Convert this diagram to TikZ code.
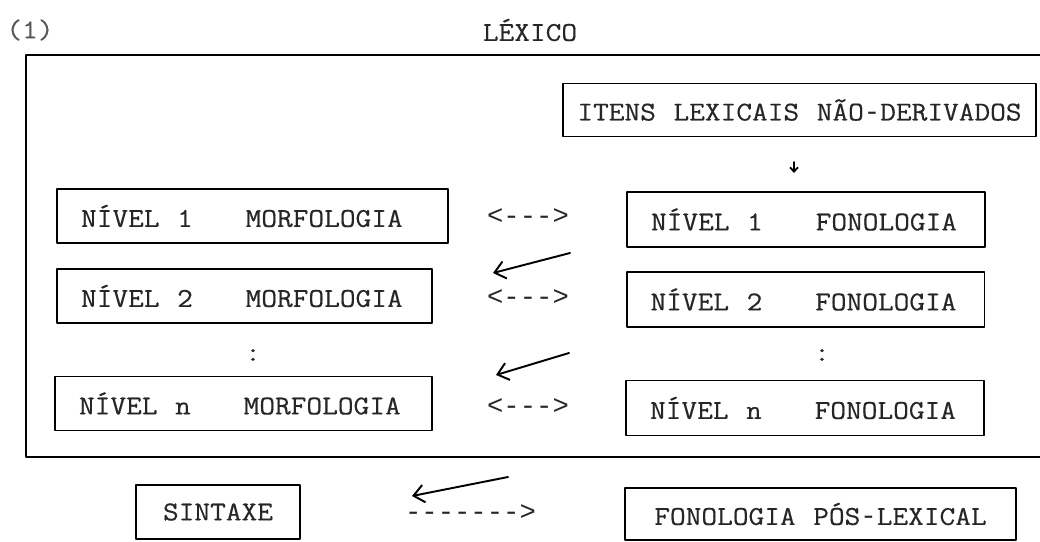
\documentclass[tikz,border=0pt]{standalone}
\usepackage{fontspec}
\setmonofont{Liberation Mono}
\newfontfamily\typew{Latin Modern Mono}[FakeStretch=1.12,WordSpace={1.12,0,0},FakeBold=0.4]
\newcommand\hyph{{\ttfamily-}}
\usetikzlibrary{arrows.meta}
\begin{document}
\begin{tikzpicture}[x=0.02cm,y=-0.02cm,line cap=round,line join=round,
  every node/.style={font=\typew\fontsize{15.5}{18}\selectfont,text=black!85},
  box/.style={draw=black,line width=1.1pt,minimum height=1.08cm,inner ysep=0pt},
  lvl/.style={box,inner xsep=0.48cm},
  link/.style={font=\ttfamily\fontsize{15.5}{18}\selectfont},
  hand/.style={line width=1.1pt,-{Straight Barb[length=6pt,width=10pt]}}]
  \useasboundingbox (0,0) rectangle (1040,541);
  \draw[line width=1.1pt] (1040,55) -- (26,55) -- (26,457) -- (1040,457);
  \node[text=black!65] (num) at (30,30) {(1)};
  \node (lexico) at (530,30) {LÉXICO};
  \node[box,minimum width=9.46cm,minimum height=1.06cm] (itens) at (799.5,110) {ITENS LEXICAIS NÃO\hyph DERIVADOS};
  \node[lvl] (mor1) at (252.5,216) {\makebox[6.86cm][l]{NÍVEL 1\ \ \ MORFOLOGIA}};
  \node[lvl] (mor2) at (244.5,296) {\makebox[6.54cm][l]{NÍVEL 2\ \ \ MORFOLOGIA}};
  \node[lvl] (morn) at (243.5,403.5) {\makebox[6.58cm][l]{NÍVEL n\ \ \ MORFOLOGIA}};
  \node[lvl,minimum height=1.1cm] (fon1) at (806,219.5) {\makebox[6.2cm][l]{NÍVEL 1\ \ \ FONOLOGIA}};
  \node[lvl,minimum height=1.1cm] (fon2) at (805.5,299.5) {\makebox[6.2cm][l]{NÍVEL 2\ \ \ FONOLOGIA}};
  \node[lvl,minimum height=1.1cm] (fonn) at (805,408) {\makebox[6.2cm][l]{NÍVEL n\ \ \ FONOLOGIA}};
  \node[box,minimum width=3.28cm] (sintaxe) at (218,512) {SINTAXE};
  \node[box,minimum width=7.82cm,minimum height=1.04cm] (poslex) at (820.5,514) {FONOLOGIA PÓS\hyph LEXICAL};
  \node[link] (link1) at (528,217) {<--->};
  \node[link] (link2) at (528,298) {<--->};
  \node[link] (linkn) at (528,407) {<--->};
  \node[link] (linkpos) at (470.5,513) {------->};
  \node (dotsm) at (253,355) {:};
  \node (dotsf) at (822,355) {:};
  \coordinate (d1) at (794,162);
  \coordinate (d2) at (794,173);
  \coordinate (a1s) at (570,253);
  \coordinate (a1e) at (493,273);
  \coordinate (a2s) at (569,353);
  \coordinate (a2e) at (496,375);
  \coordinate (a3s) at (508,477);
  \coordinate (a3e) at (412,496);
  \draw[line width=1pt,-{Straight Barb[length=2.5pt,width=4.5pt]}] (d1) -- (d2);
  \draw[hand] (a1s) -- (a1e);
  \draw[hand] (a2s) -- (a2e);
  \draw[hand] (a3s) -- (a3e);
\end{tikzpicture}
\end{document}
